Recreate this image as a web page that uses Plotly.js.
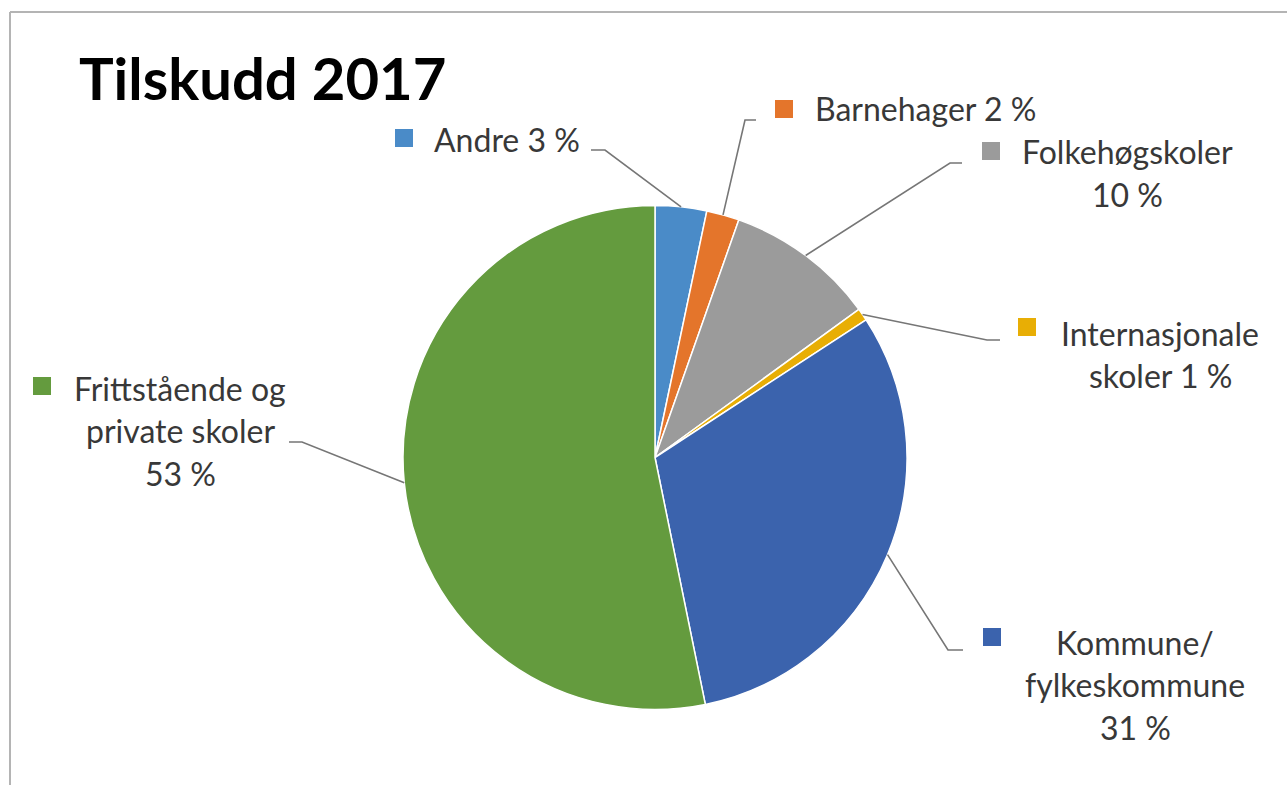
<!DOCTYPE html>
<html>
<head>
<meta charset="utf-8">
<script src="https://cdn.plot.ly/plotly-3.0.1.min.js"></script>
<style>html,body{margin:0;padding:0;background:#fff;}#chart{width:1287px;height:785px;}</style>
</head>
<body>
<div id="chart"></div>
<script>
// ---- data ----
const categories = ["Andre", "Barnehager", "Folkehøgskoler", "Internasjonale skoler", "Kommune/ fylkeskommune", "Frittstående og private skoler"];
const values = [3.3, 2.1, 9.6, 0.8, 31.0, 53.2];
const percentLabels = ["3 %", "2 %", "10 %", "1 %", "31 %", "53 %"];
const labelLines = [
  ["Andre 3 %"],
  ["Barnehager 2 %"],
  ["Folkehøgskoler", "10 %"],
  ["Internasjonale", "skoler 1 %"],
  ["Kommune/", "fylkeskommune", "31 %"],
  ["Frittstående og", "private skoler", "53 %"]
];
const colors = ["#4a8bc8", "#e4752b", "#9b9b9b", "#e8ae05", "#3b63ad", "#649b3e"];
const titleText = "Tilskudd 2017";

// ---- layout geometry (pixels) ----
const W = 1287, H = 785;
const cx = 655, cy = 457.5, R = 252;
const px = x => x / W;
const py = y => 1 - y / H;

// label placement: text centre x, first-line centre y, square centre, elbow point, leader end
const place = [
  {tx: 507, ty: 140, sq: [404, 138], elbow: [605, 150], end: [591, 150]},
  {tx: 925, ty: 109, sq: [784, 109], elbow: [745, 120], end: [756, 120]},
  {tx: 1127, ty: 152, sq: [991, 151], elbow: [950, 163], end: [962, 163]},
  {tx: 1160, ty: 333, sq: [1027, 327], elbow: [987, 340], end: [1000, 340]},
  {tx: 1135, ty: 642, sq: [992, 637], elbow: [948, 650], end: [963, 650]},
  {tx: 180, ty: 388, sq: [42, 386], elbow: [302, 442], end: [289, 442]}
];
const lineGap = 42.5;
const sqSize = 18;

const total = values.reduce((a, b) => a + b, 0);
let cum = 0;
const mids = values.map(v => { const m = (cum + v / 2) / total * 2 * Math.PI; cum += v; return m; });

const shapes = [];
const annotations = [];

// frame
shapes.push({type: "line", xref: "paper", yref: "paper", x0: px(10), y0: py(12), x1: px(1287), y1: py(12), line: {color: "#b4b4b4", width: 2}});
shapes.push({type: "line", xref: "paper", yref: "paper", x0: px(10), y0: py(12), x1: px(10), y1: py(785), line: {color: "#b4b4b4", width: 2}});

categories.forEach((c, i) => {
  const p = place[i];
  const sx = cx + R * Math.sin(mids[i]);
  const sy = cy - R * Math.cos(mids[i]);
  shapes.push({
    type: "path", xref: "paper", yref: "paper",
    path: `M ${px(sx)},${py(sy)} L ${px(p.elbow[0])},${py(p.elbow[1])} L ${px(p.end[0])},${py(p.end[1])}`,
    line: {color: "#767676", width: 1.6}
  });
  shapes.push({
    type: "rect", xref: "paper", yref: "paper",
    x0: px(p.sq[0] - sqSize / 2), x1: px(p.sq[0] + sqSize / 2),
    y0: py(p.sq[1] - sqSize / 2), y1: py(p.sq[1] + sqSize / 2),
    fillcolor: colors[i], line: {width: 0}
  });
  labelLines[i].forEach((t, k) => {
    annotations.push({
      xref: "paper", yref: "paper", x: px(p.tx), y: py(p.ty + k * lineGap),
      xanchor: "center", yanchor: "middle", showarrow: false, text: t,
      font: {family: "Lato, 'Open Sans', sans-serif", size: 32, color: "#383838"}
    });
  });
});

annotations.push({
  xref: "paper", yref: "paper", x: px(77), y: py(78), xanchor: "left", yanchor: "middle",
  showarrow: false, text: "<b>" + titleText + "</b>",
  font: {family: "Lato, 'Open Sans', sans-serif", size: 58, color: "#000000"}
});

const trace = {
  type: "pie",
  labels: categories,
  values: values,
  sort: false,
  direction: "clockwise",
  rotation: 0,
  textinfo: "none",
  hoverinfo: "label+percent",
  marker: {colors: colors, line: {color: "#ffffff", width: 1.5}},
  domain: {x: [px(cx - R), px(cx + R)], y: [py(cy + R), py(cy - R)]},
  showlegend: false
};

const layout = {
  width: W, height: H,
  margin: {l: 0, r: 0, t: 0, b: 0},
  paper_bgcolor: "#ffffff",
  plot_bgcolor: "#ffffff",
  showlegend: false,
  shapes: shapes,
  annotations: annotations
};

Plotly.newPlot("chart", [trace], layout, {displayModeBar: false, staticPlot: true});
</script>
</body>
</html>
